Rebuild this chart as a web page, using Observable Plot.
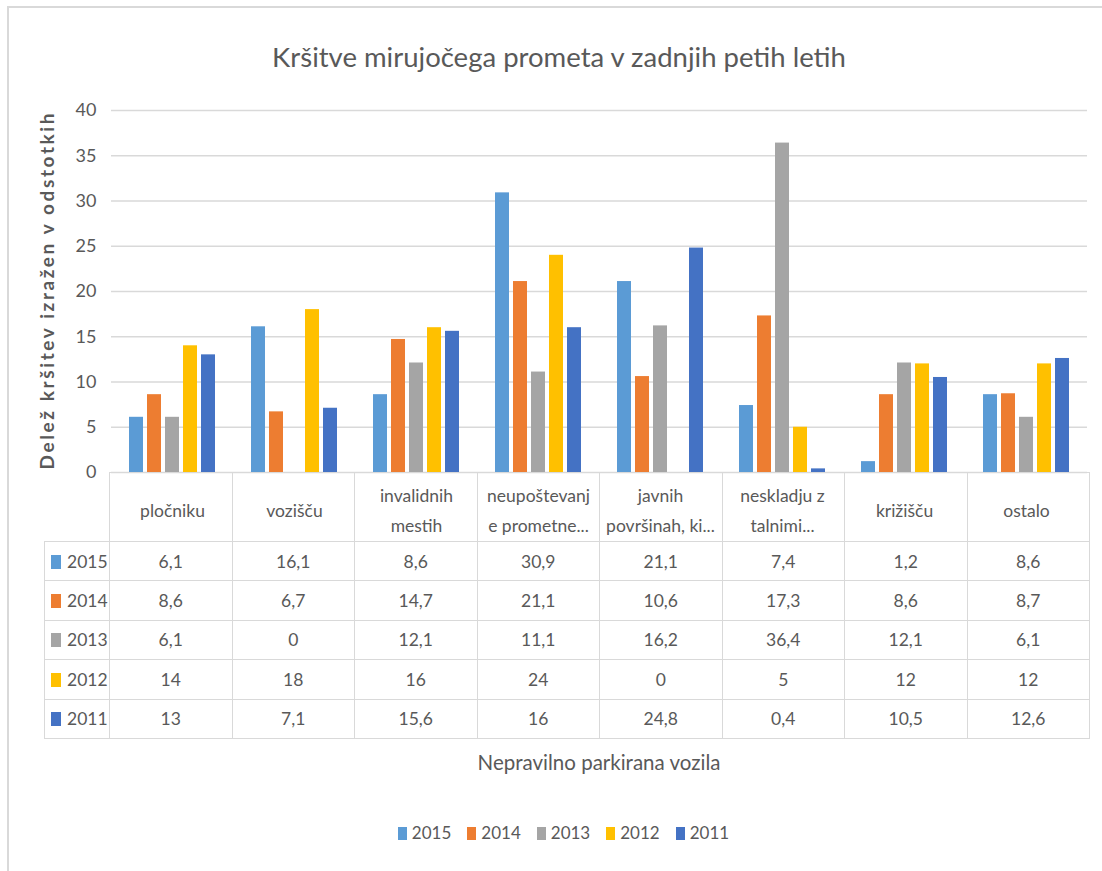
<!DOCTYPE html>
<html>
<head>
<meta charset="utf-8">
<script src="https://cdn.jsdelivr.net/npm/d3@7"></script>
<script src="https://cdn.jsdelivr.net/npm/@observablehq/plot@0.6"></script>
<style>
  html, body { margin: 0; padding: 0; background: #fff; }
  #wrap { position: relative; width: 1102px; height: 871px; overflow: hidden; background: #fff;
          font-family: Lato, "Liberation Sans", sans-serif; color: #595959; }
  #frame { position: absolute; left: 7px; top: 6px; width: 1200px; height: 1000px;
           border-top: 2px solid #d9d9d9; border-left: 2px solid #d9d9d9; }
  #title { position: absolute; left: 0; width: 1118px; top: 39px; text-align: center; font-size: 27.5px; line-height: 36px; }
  #chart { position: absolute; left: 0; top: 0; z-index: 2; }
  #tbl { position: absolute; left: 44px; top: 472px; border-collapse: collapse; table-layout: fixed; z-index: 1; }
  #tbl td { border: 1.5px solid #d9d9d9; padding: 0; text-align: center; font-size: 17.5px; color: #595959; }
  #tbl tr.head td { height: 68px; }
  #tbl tr.head td.blank { border: none; }
  #tbl tr.row td { height: 38.4px; }
  #tbl td.key { text-align: left; white-space: nowrap; }
  #tbl td.key span.sw { display: inline-block; width: 10px; height: 14px; margin-left: 6px; margin-right: 6px; vertical-align: -1px; }
  #xtitle { position: absolute; left: 109px; width: 980px; top: 748px; text-align: center; font-size: 20.5px; line-height: 28px; }
  #legend { position: absolute; left: 0; width: 1127px; top: 820px; display: flex; justify-content: center; gap: 16px;
            font-size: 17px; line-height: 26px; }
  #legend .item { display: flex; align-items: center; }
  #legend .sw { display: inline-block; width: 9px; height: 13px; margin-right: 5px; }
</style>
</head>
<body>
<div id="wrap">
  <div id="frame"></div>
  <div id="title"></div>
  <table id="tbl"></table>
  <div id="chart"></div>
  <div id="xtitle"></div>
  <div id="legend"></div>
</div>
<script>
const titleText = "Kršitve mirujočega prometa v zadnjih petih letih";
const yTitle = "Delež kršitev izražen v odstotkih";
const xTitle = "Nepravilno parkirana vozila";
const categories = ["pločniku", "vozišču", "invalidnih mestih", "neupoštevanje prometne...", "javnih površinah, ki...", "neskladju z talnimi...", "križišču", "ostalo"];
const tickLabels = ["pločniku", "vozišču", "invalidnih\nmestih", "neupoštevanj\ne prometne...", "javnih\npovršinah, ki...", "neskladju z\ntalnimi...", "križišču", "ostalo"];
const years = ["2015", "2014", "2013", "2012", "2011"];
const v2015 = [6.1, 16.1, 8.6, 30.9, 21.1, 7.4, 1.2, 8.6];
const v2014 = [8.6, 6.7, 14.7, 21.1, 10.6, 17.3, 8.6, 8.7];
const v2013 = [6.1, 0, 12.1, 11.1, 16.2, 36.4, 12.1, 6.1];
const v2012 = [14, 18, 16, 24, 0, 5, 12, 12];
const v2011 = [13, 7.1, 15.6, 16, 24.8, 0.4, 10.5, 12.6];
const yTicks = [0, 5, 10, 15, 20, 25, 30, 35, 40];
const colors = ["#5B9BD5", "#ED7D31", "#A5A5A5", "#FFC000", "#4472C4"];

const series = [v2015, v2014, v2013, v2012, v2011];
const data = [];
years.forEach((yr, j) => categories.forEach((c, i) => data.push({cat: c, year: yr, value: series[j][i]})));
const fmt = v => String(v).replace(".", ",");
const FONT = 'Lato, "Liberation Sans", sans-serif';

document.getElementById("title").textContent = titleText;
document.getElementById("xtitle").textContent = xTitle;

const chart = Plot.plot({
  width: 1102,
  height: 541,
  marginTop: 110,
  marginBottom: 69,
  marginLeft: 109,
  marginRight: 13,
  style: {background: "transparent", color: "#595959", fontFamily: FONT, overflow: "visible"},
  fx: {domain: categories, padding: 0, axis: null},
  x: {domain: years, paddingInner: 0.2, paddingOuter: 0.82, axis: null},
  y: {domain: [0, 40], axis: null},
  color: {domain: years, range: colors},
  marks: [
    Plot.gridY(yTicks, {stroke: "#d9d9d9", strokeOpacity: 1, strokeWidth: 1.5}),
    Plot.axisY({ticks: yTicks, tickSize: 0, tickPadding: 15, fontSize: 18, label: null}),
    Plot.axisFx({anchor: "bottom", tickSize: 0, tickPadding: 35, lineAnchor: "middle", fontSize: 17.5, lineHeight: 1.7,
                 tickFormat: d => tickLabels[categories.indexOf(d)], label: null}),
    Plot.barY(data, {fx: "cat", x: "year", y: "value", fill: "year"}),
    Plot.text([yTitle], {frameAnchor: "left", textAnchor: "middle", dx: -64, rotate: -90, fontSize: 19,
                         fontWeight: "bold", fontFamily: FONT, facet: "super"})
  ]
});
document.getElementById("chart").appendChild(chart);
d3.select(chart).selectAll("text").filter(function() { return this.textContent === yTitle; })
  .attr("textLength", 356).attr("lengthAdjust", "spacing");

// data table
const tbl = d3.select("#tbl");
const cg = tbl.append("colgroup");
cg.append("col").style("width", "65px");
categories.forEach(() => cg.append("col").style("width", "122.5px"));
const head = tbl.append("tr").attr("class", "head");
head.append("td").attr("class", "blank");
categories.forEach(() => head.append("td"));
years.forEach((yr, j) => {
  const tr = tbl.append("tr").attr("class", "row");
  const k = tr.append("td").attr("class", "key");
  k.append("span").attr("class", "sw").style("background", colors[j]);
  k.append("span").text(yr);
  series[j].forEach(v => tr.append("td").text(fmt(v)));
});

// legend
const lg = d3.select("#legend");
years.forEach((yr, j) => {
  const it = lg.append("span").attr("class", "item");
  it.append("span").attr("class", "sw").style("background", colors[j]);
  it.append("span").text(yr);
});
</script>
</body>
</html>
